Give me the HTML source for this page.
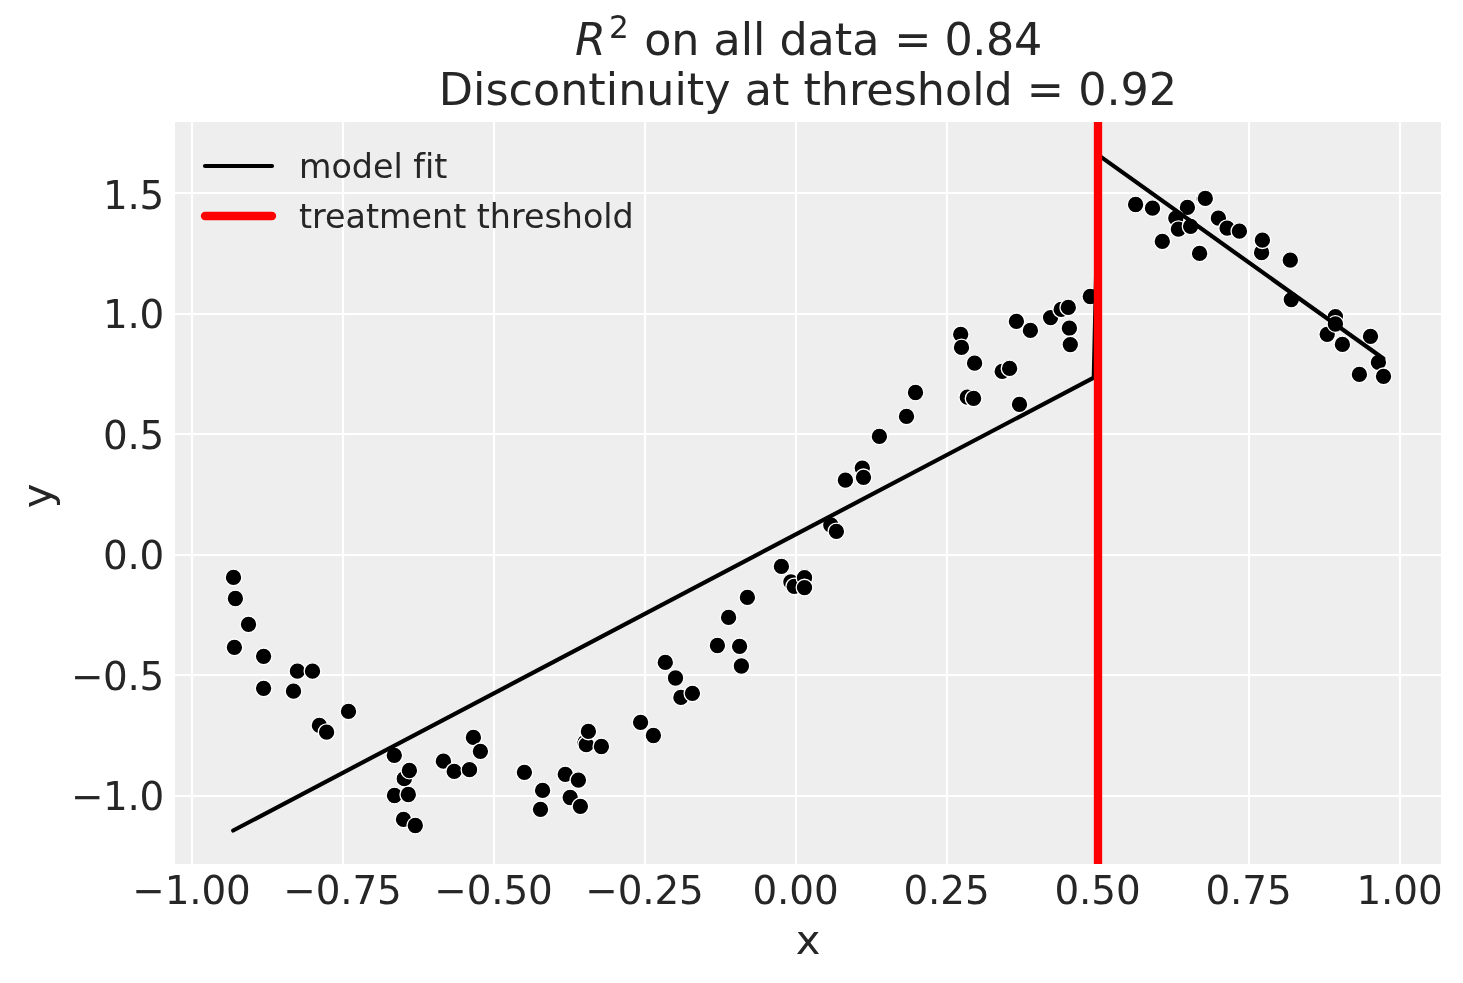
<!DOCTYPE html>
<html lang="en"><head><meta charset="utf-8"><title>Regression discontinuity</title>
<style>html,body{margin:0;padding:0;background:#fff}body{width:1463px;height:983px;overflow:hidden}svg{display:block}text{font-variant-ligatures:none;font-kerning:normal;font-family:"DejaVu Sans","Liberation Sans",sans-serif;fill:#262626}</style></head><body>
<svg width="1463" height="983" viewBox="0 0 1463 983">
<rect x="0" y="0" width="1463" height="983" fill="#ffffff"/>
<rect x="175" y="122" width="1266" height="742" fill="#eeeeee"/>
<g stroke="#ffffff" stroke-width="2.2" fill="none">
<line x1="192" y1="122" x2="192" y2="864"/>
<line x1="343" y1="122" x2="343" y2="864"/>
<line x1="494" y1="122" x2="494" y2="864"/>
<line x1="645" y1="122" x2="645" y2="864"/>
<line x1="796" y1="122" x2="796" y2="864"/>
<line x1="947" y1="122" x2="947" y2="864"/>
<line x1="1098" y1="122" x2="1098" y2="864"/>
<line x1="1249" y1="122" x2="1249" y2="864"/>
<line x1="1400" y1="122" x2="1400" y2="864"/>
<line x1="175" y1="193.0" x2="1441" y2="193.0"/>
<line x1="175" y1="314.0" x2="1441" y2="314.0"/>
<line x1="175" y1="434.0" x2="1441" y2="434.0"/>
<line x1="175" y1="555.0" x2="1441" y2="555.0"/>
<line x1="175" y1="675.0" x2="1441" y2="675.0"/>
<line x1="175" y1="796.0" x2="1441" y2="796.0"/>
</g>
<g fill="#000000" stroke="#ffffff" stroke-width="1.33">
<circle cx="233.5" cy="577.4" r="8.33"/>
<circle cx="235.4" cy="598.5" r="8.33"/>
<circle cx="248.5" cy="624.3" r="8.33"/>
<circle cx="234.4" cy="647.3" r="8.33"/>
<circle cx="263.6" cy="656.3" r="8.33"/>
<circle cx="297.4" cy="671.2" r="8.33"/>
<circle cx="312.5" cy="671.2" r="8.33"/>
<circle cx="263.6" cy="688.3" r="8.33"/>
<circle cx="293.5" cy="691.2" r="8.33"/>
<circle cx="348.5" cy="711.4" r="8.33"/>
<circle cx="319.4" cy="725.4" r="8.33"/>
<circle cx="326.6" cy="732.2" r="8.33"/>
<circle cx="394.3" cy="755.3" r="8.33"/>
<circle cx="404.3" cy="778.7" r="8.33"/>
<circle cx="409.4" cy="770.5" r="8.33"/>
<circle cx="394.5" cy="795.5" r="8.33"/>
<circle cx="408.3" cy="794.5" r="8.33"/>
<circle cx="403.5" cy="819.4" r="8.33"/>
<circle cx="415.3" cy="825.5" r="8.33"/>
<circle cx="443.4" cy="761.2" r="8.33"/>
<circle cx="454.2" cy="771.4" r="8.33"/>
<circle cx="469.5" cy="769.7" r="8.33"/>
<circle cx="473.4" cy="737.4" r="8.33"/>
<circle cx="480.4" cy="751.3" r="8.33"/>
<circle cx="524.4" cy="772.3" r="8.33"/>
<circle cx="542.6" cy="790.4" r="8.33"/>
<circle cx="540.5" cy="809.3" r="8.33"/>
<circle cx="565.3" cy="774.3" r="8.33"/>
<circle cx="578.4" cy="780.2" r="8.33"/>
<circle cx="570.2" cy="797.5" r="8.33"/>
<circle cx="580.4" cy="806.3" r="8.33"/>
<circle cx="585.0" cy="742.5" r="8.33"/>
<circle cx="586.3" cy="744.7" r="8.33"/>
<circle cx="588.4" cy="731.4" r="8.33"/>
<circle cx="601.4" cy="746.5" r="8.33"/>
<circle cx="640.6" cy="722.3" r="8.33"/>
<circle cx="653.4" cy="735.5" r="8.33"/>
<circle cx="665.3" cy="662.4" r="8.33"/>
<circle cx="675.5" cy="678.0" r="8.33"/>
<circle cx="680.9" cy="697.4" r="8.33"/>
<circle cx="692.4" cy="693.3" r="8.33"/>
<circle cx="717.4" cy="645.5" r="8.33"/>
<circle cx="739.6" cy="646.3" r="8.33"/>
<circle cx="741.4" cy="666.0" r="8.33"/>
<circle cx="728.6" cy="617.4" r="8.33"/>
<circle cx="747.4" cy="597.4" r="8.33"/>
<circle cx="781.4" cy="566.4" r="8.33"/>
<circle cx="790.9" cy="582.0" r="8.33"/>
<circle cx="794.2" cy="586.4" r="8.33"/>
<circle cx="804.5" cy="577.7" r="8.33"/>
<circle cx="804.5" cy="587.6" r="8.33"/>
<circle cx="830.8" cy="525.0" r="8.33"/>
<circle cx="836.4" cy="531.4" r="8.33"/>
<circle cx="845.4" cy="480.2" r="8.33"/>
<circle cx="862.3" cy="468.1" r="8.33"/>
<circle cx="863.5" cy="477.3" r="8.33"/>
<circle cx="879.4" cy="436.4" r="8.33"/>
<circle cx="906.5" cy="416.4" r="8.33"/>
<circle cx="915.5" cy="392.5" r="8.33"/>
<circle cx="967.3" cy="397.2" r="8.33"/>
<circle cx="973.6" cy="398.4" r="8.33"/>
<circle cx="1019.5" cy="404.4" r="8.33"/>
<circle cx="960.7" cy="334.3" r="8.33"/>
<circle cx="961.5" cy="347.4" r="8.33"/>
<circle cx="974.6" cy="363.2" r="8.33"/>
<circle cx="1002.2" cy="371.4" r="8.33"/>
<circle cx="1009.6" cy="368.4" r="8.33"/>
<circle cx="1016.4" cy="321.3" r="8.33"/>
<circle cx="1030.4" cy="330.4" r="8.33"/>
<circle cx="1050.6" cy="317.6" r="8.33"/>
<circle cx="1061.2" cy="309.4" r="8.33"/>
<circle cx="1068.3" cy="307.4" r="8.33"/>
<circle cx="1069.4" cy="328.2" r="8.33"/>
<circle cx="1070.3" cy="344.6" r="8.33"/>
<circle cx="1090.3" cy="296.5" r="8.33"/>
<circle cx="1135.6" cy="204.5" r="8.33"/>
<circle cx="1152.5" cy="208.2" r="8.33"/>
<circle cx="1187.4" cy="207.4" r="8.33"/>
<circle cx="1175.8" cy="218.1" r="8.33"/>
<circle cx="1178.4" cy="229.2" r="8.33"/>
<circle cx="1190.6" cy="226.3" r="8.33"/>
<circle cx="1162.3" cy="241.4" r="8.33"/>
<circle cx="1199.6" cy="253.3" r="8.33"/>
<circle cx="1204.0" cy="198.4" r="8.33"/>
<circle cx="1205.3" cy="198.4" r="8.33"/>
<circle cx="1218.4" cy="218.2" r="8.33"/>
<circle cx="1227.1" cy="228.2" r="8.33"/>
<circle cx="1239.4" cy="231.2" r="8.33"/>
<circle cx="1261.6" cy="252.5" r="8.33"/>
<circle cx="1262.4" cy="240.2" r="8.33"/>
<circle cx="1290.3" cy="260.2" r="8.33"/>
<circle cx="1291.3" cy="299.6" r="8.33"/>
<circle cx="1335.4" cy="316.6" r="8.33"/>
<circle cx="1327.2" cy="334.3" r="8.33"/>
<circle cx="1335.4" cy="324.0" r="8.33"/>
<circle cx="1342.4" cy="344.4" r="8.33"/>
<circle cx="1370.5" cy="336.3" r="8.33"/>
<circle cx="1378.4" cy="362.3" r="8.33"/>
<circle cx="1359.4" cy="374.4" r="8.33"/>
<circle cx="1383.5" cy="376.3" r="8.33"/>
</g>
<polyline points="233.2,830.5 1093.8,377.6 1098.8,155.4 1383.3,358.5" fill="none" stroke="#000000" stroke-width="4.17" stroke-linecap="round" stroke-linejoin="round"/>
<line x1="1098" y1="122" x2="1098" y2="864" stroke="#ff0000" stroke-width="8.33"/>
<line x1="205" y1="166" x2="272" y2="166" stroke="#000000" stroke-width="4.17" stroke-linecap="round"/>
<line x1="205" y1="216" x2="272" y2="216" stroke="#ff0000" stroke-width="8.33" stroke-linecap="round"/>
<text x="299" y="177.5" font-size="33.33">model fit</text>
<text x="299" y="227.5" font-size="33.33">treatment threshold</text>
<g font-size="38.89" text-anchor="middle" letter-spacing="-0.15">
<text x="191.5" y="904.3">−1.00</text>
<text x="342.5" y="904.3">−0.75</text>
<text x="493.5" y="904.3">−0.50</text>
<text x="644.5" y="904.3">−0.25</text>
<text x="795.5" y="904.3">0.00</text>
<text x="946.5" y="904.3">0.25</text>
<text x="1097.5" y="904.3">0.50</text>
<text x="1248.5" y="904.3">0.75</text>
<text x="1399.5" y="904.3">1.00</text>
</g>
<g font-size="38.89" text-anchor="end">
<text x="163.9" y="209.35" letter-spacing="-0.35">1.5</text>
<text x="163.9" y="328.25" letter-spacing="-0.35">1.0</text>
<text x="163.9" y="449.35" letter-spacing="-0.35">0.5</text>
<text x="163.9" y="569.00" letter-spacing="-0.35">0.0</text>
<text x="163.9" y="689.85" letter-spacing="-0.35">−0.5</text>
<text x="163.9" y="809.85" letter-spacing="-0.35">−1.0</text>
</g>
<text x="808.2" y="953.8" font-size="41.67" text-anchor="middle">x</text>
<text transform="translate(51.3,496) rotate(-90)" font-size="41.67" text-anchor="middle">y</text>
<text x="575.1" y="54.5" font-size="44.44" font-style="italic">R</text>
<text x="609.1" y="37.8" font-size="31.1">2</text>
<text x="644.2" y="54.5" font-size="44.44" textLength="235.2" lengthAdjust="spacing">on all data</text>
<text x="894.2" y="54.5" font-size="44.44">=</text>
<text x="944.4" y="54.5" font-size="44.44" textLength="97.8" lengthAdjust="spacing">0.84</text>
<text x="808" y="104.7" font-size="44.44" text-anchor="middle">Discontinuity at threshold = 0.92</text>
</svg></body></html>
